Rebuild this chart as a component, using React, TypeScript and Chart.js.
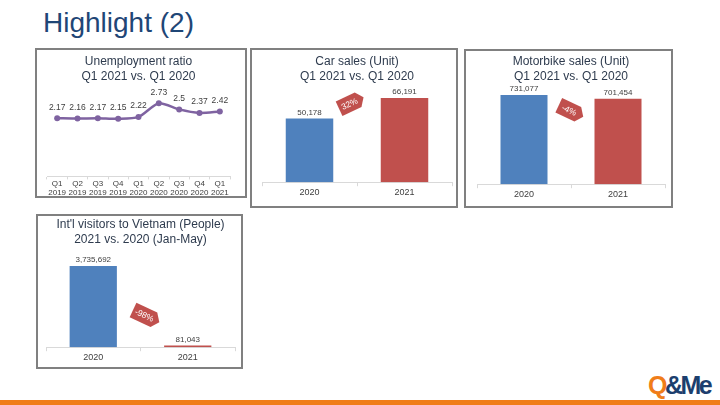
import React, { useEffect, useRef } from "react";
import { Chart, registerables } from "chart.js";

Chart.register(...registerables);

// ---------- data ----------
const unempLabels = [
  ["Q1", "2019"], ["Q2", "2019"], ["Q3", "2019"], ["Q4", "2019"],
  ["Q1", "2020"], ["Q2", "2020"], ["Q3", "2020"], ["Q4", "2020"], ["Q1", "2021"],
];
const unempValues = [2.17, 2.16, 2.17, 2.15, 2.22, 2.73, 2.5, 2.37, 2.42];

const carYears = ["2020", "2021"];
const carValues = [50178, 66191];
const carChange = "32%";

const motoYears = ["2020", "2021"];
const motoValues = [731077, 701454];
const motoChange = "-4%";

const visitorYears = ["2020", "2021"];
const visitorValues = [3735692, 81043];
const visitorChange = "-98%";

// ---------- styles ----------
const FONT = "'Liberation Sans', Arial, sans-serif";
const TITLE_COLOR = "#2e3b4e";
const LABEL_COLOR = "#404040";
const BLUE = "#4f81bd";
const RED = "#c0504d";
const PURPLE = "#7f63a1";
const AXIS = "#d9d9d9";

const fmt = (v: number) => v.toLocaleString("en-US");

const valueLabels = {
  id: "valueLabels",
  afterDatasetsDraw(chart: any, _args: any, opts: any) {
    const ctx = chart.ctx;
    ctx.save();
    ctx.font = `${opts.size || 8}px ${FONT}`;
    ctx.fillStyle = opts.color || LABEL_COLOR;
    ctx.textAlign = "center";
    ctx.textBaseline = "middle";
    chart.data.datasets.forEach((ds: any, i: number) => {
      const meta = chart.getDatasetMeta(i);
      meta.data.forEach((el: any, j: number) => {
        const v = ds.data[j];
        const txt = opts.format ? opts.format(v) : String(v);
        ctx.fillText(txt, el.x, el.y - (opts.offset ?? 6));
      });
    });
    ctx.restore();
  },
};

const changeBadge = {
  id: "changeBadge",
  afterDatasetsDraw(chart: any, _args: any, opts: any) {
    if (!opts || !opts.text) return;
    const ctx = chart.ctx;
    const x = chart.scales.x.getPixelForValue(opts.xValue);
    const y = chart.scales.y.getPixelForValue(opts.yValue);
    const w = opts.w || 27;
    const h = opts.h || 16;
    const p = opts.point || 6;
    ctx.save();
    ctx.translate(x, y);
    ctx.rotate((opts.angle * Math.PI) / 180);
    ctx.beginPath();
    ctx.moveTo(-w / 2, -h / 2);
    ctx.lineTo(w / 2 - p, -h / 2);
    ctx.lineTo(w / 2, 0);
    ctx.lineTo(w / 2 - p, h / 2);
    ctx.lineTo(-w / 2, h / 2);
    ctx.closePath();
    ctx.fillStyle = RED;
    ctx.fill();
    ctx.fillStyle = "#ffffff";
    ctx.font = `8.5px ${FONT}`;
    ctx.textAlign = "center";
    ctx.textBaseline = "middle";
    ctx.fillText(opts.text, -2, 0.5);
    ctx.restore();
  },
};

const titleOpts = (lines: string[], top: number) => ({
  display: true,
  text: lines,
  color: TITLE_COLOR,
  font: { family: FONT, size: 12, weight: "normal" as const, lineHeight: 1.25 },
  padding: { top, bottom: 4 },
});

function barConfig(
  labels: string[],
  values: number[],
  title: string[],
  titleTop: number,
  yMax: number,
  pad: { left: number; right: number; bottom: number },
  badge: any
): any {
  return {
    type: "bar",
    data: {
      labels,
      datasets: [
        {
          data: values,
          backgroundColor: [BLUE, RED],
          borderWidth: 0,
          categoryPercentage: 1,
          barPercentage: 0.5,
        },
      ],
    },
    options: {
      responsive: false,
      animation: false,
      layout: { padding: { top: 0, ...pad } },
      scales: {
        x: {
          grid: { display: true, drawOnChartArea: false, drawTicks: true, tickLength: 4, color: AXIS, offset: true },
          border: { display: true, color: AXIS, width: 1 },
          ticks: { color: LABEL_COLOR, font: { family: FONT, size: 9 }, padding: 1 },
        },
        y: { display: false, min: 0, max: yMax },
      },
      plugins: {
        legend: { display: false },
        tooltip: { enabled: false },
        title: titleOpts(title, titleTop),
        valueLabels: { size: 8, offset: 6, format: fmt },
        changeBadge: badge,
      },
    },
    plugins: [valueLabels, changeBadge],
  };
}

function lineConfig(): any {
  return {
    type: "line",
    data: {
      labels: unempLabels,
      datasets: [
        {
          data: unempValues,
          borderColor: PURPLE,
          backgroundColor: PURPLE,
          borderWidth: 2.5,
          pointRadius: 3,
          pointBackgroundColor: PURPLE,
          pointBorderWidth: 0,
          tension: 0.25,
          fill: false,
        },
      ],
    },
    options: {
      responsive: false,
      animation: false,
      layout: { padding: { top: 0, left: 12, right: 17, bottom: 1 } },
      scales: {
        x: {
          offset: true,
          grid: { display: true, drawOnChartArea: false, drawTicks: true, tickLength: 3, color: AXIS, offset: true },
          border: { display: true, color: AXIS, width: 1 },
          ticks: {
            color: LABEL_COLOR,
            font: { family: FONT, size: 8, lineHeight: 1.1 },
            padding: 0,
            maxRotation: 0,
            autoSkip: false,
          },
        },
        y: { display: false, min: 0, max: 3.28 },
      },
      plugins: {
        legend: { display: false },
        tooltip: { enabled: false },
        title: titleOpts(["Unemployment ratio", "Q1 2021 vs. Q1 2020"], 6.5),
        valueLabels: { size: 8.5, offset: 11, format: (v: number) => String(v) },
      },
    },
    plugins: [valueLabels],
  };
}

type Rect = { x: number; y: number; w: number; h: number };

function ChartCanvas({ rect, make }: { rect: Rect; make: () => any }) {
  const ref = useRef<HTMLCanvasElement>(null);
  useEffect(() => {
    const chart = new Chart(ref.current as HTMLCanvasElement, make());
    return () => chart.destroy();
  }, []);
  return (
    <canvas
      ref={ref}
      width={rect.w}
      height={rect.h}
      style={{ position: "absolute", left: rect.x, top: rect.y, width: rect.w, height: rect.h }}
    />
  );
}

function Frame({ rect }: { rect: Rect }) {
  return (
    <div
      style={{
        position: "absolute",
        left: rect.x,
        top: rect.y,
        width: rect.w,
        height: rect.h,
        border: "2px solid #808080",
        boxSizing: "border-box",
      }}
    />
  );
}

const R1: Rect = { x: 35, y: 48, w: 212, h: 150 };
const R2: Rect = { x: 250, y: 48, w: 208, h: 160 };
const R3: Rect = { x: 464, y: 49, w: 209, h: 159 };
const R4: Rect = { x: 36, y: 214, w: 207, h: 155 };

export default function App() {
  return (
    <div
      style={{
        position: "fixed",
        left: 0,
        top: 0,
        width: 720,
        height: 405,
        background: "#ffffff",
        overflow: "hidden",
        fontFamily: FONT,
      }}
    >
      <div
        style={{
          position: "absolute",
          left: 43,
          top: 7,
          fontSize: 28,
          lineHeight: "32px",
          color: "#1f4676",
          whiteSpace: "nowrap",
        }}
      >
        Highlight (2)
      </div>

      <Frame rect={R1} />
      <Frame rect={R2} />
      <Frame rect={R3} />
      <Frame rect={R4} />

      <ChartCanvas rect={R1} make={lineConfig} />
      <ChartCanvas
        rect={R2}
        make={() =>
          barConfig(carYears, carValues, ["Car sales (Unit)", "Q1 2021 vs. Q1 2020"], 6.5, 73677,
            { left: 12, right: 6, bottom: 9 },
            { text: carChange, xValue: 0.44, yValue: 62250, angle: -25 })
        }
      />
      <ChartCanvas
        rect={R3}
        make={() =>
          barConfig(motoYears, motoValues, ["Motorbike sales (Unit)", "Q1 2021 vs. Q1 2020"], 5, 788578,
            { left: 13, right: 8, bottom: 7 },
            { text: motoChange, xValue: 0.5, yValue: 599637, angle: 25 })
        }
      />
      <ChartCanvas
        rect={R4}
        make={() =>
          barConfig(visitorYears, visitorValues, ["Int'l visitors to Vietnam (People)", "2021 vs. 2020 (Jan-May)"], 3.5, 4404490,
            { left: 10, right: 8, bottom: 5 },
            { text: visitorChange, xValue: 0.56, yValue: 1429700, angle: 25, w: 29 })
        }
      />

      <div
        style={{
          position: "absolute",
          left: 648,
          top: 371,
          fontSize: 25,
          fontWeight: "bold",
          letterSpacing: -2.5,
          lineHeight: "28px",
          whiteSpace: "nowrap",
        }}
      >
        <span style={{ color: "#f07d19" }}>Q</span>
        <span style={{ color: "#1c3f6e" }}>&amp;Me</span>
      </div>
      <div style={{ position: "absolute", left: 0, top: 400, width: 720, height: 5, background: "#f07d19" }} />
    </div>
  );
}
